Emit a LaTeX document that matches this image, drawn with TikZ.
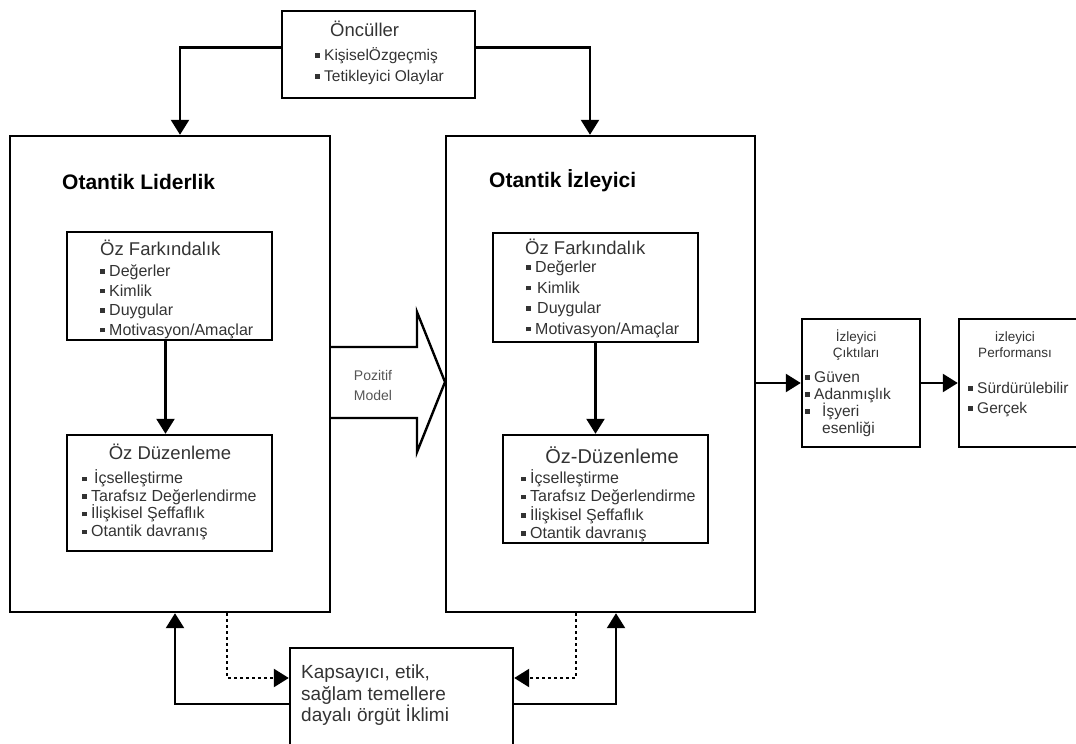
\documentclass[tikz,border=0pt]{standalone}
\usepackage{fontspec}
\setmainfont{Liberation Sans}
\usetikzlibrary{arrows.meta}
\definecolor{txtgray}{HTML}{333333}
\definecolor{modgray}{HTML}{555555}
% small square bullet
\newcommand{\blt}{\raisebox{0.3ex}{\rule{4.5pt}{4.5pt}}\hspace{4.5pt}}

\begin{document}
\begin{tikzpicture}[x=1pt,y=-1pt,
  box/.style={draw, line width=2.4pt, inner sep=0pt},
  arr/.style={line width=2.4pt, -{Triangle[length=15pt,width=18pt]}},
  dotarr/.style={arr, dash pattern=on 3pt off 3pt},
  ttl/.style={font=\fontsize{21}{25}\selectfont\bfseries, inner sep=0pt, anchor=west},
  hd/.style={font=\fontsize{18.5}{22}\selectfont, text=txtgray, inner sep=0pt},
  itm/.style={font=\fontsize{16}{19.5}\selectfont, text=txtgray, inner sep=0pt, align=left, anchor=north west},
  sm/.style={font=\fontsize{13.5}{16}\selectfont, text=txtgray, inner sep=0pt, align=center}]
  \useasboundingbox (0,0) rectangle (1076,744);

  % Antecedents
  \node[box, minimum width=193pt, minimum height=87pt] (oncul) at (378.5,54.5) {};
  \node[hd, anchor=west] (onculT) at (330,29) {Öncüller};
  \node[itm, font=\fontsize{15.5}{21}\selectfont] (onculL) at (315,47) {\blt KişiselÖzgeçmiş\\\blt Tetikleyici Olaylar};

  % Authentic leadership
  \node[box, minimum width=320pt, minimum height=476pt] (lider) at (170,374) {};
  \node[ttl] (liderT) at (62,182) {Otantik Liderlik};
  \node[box, minimum width=205pt, minimum height=108pt] (fark1) at (169.5,286) {};
  \node[hd, anchor=west] (fark1T) at (100,248) {Öz Farkındalık};
  \node[itm] (fark1L) at (100,264.5) {\blt Değerler\\\blt Kimlik\\\blt Duygular\\\blt Motivasyon/Amaçlar};
  \node[box, minimum width=205pt, minimum height=116pt] (duz1) at (169.5,493) {};
  \node[hd] (duz1T) at (170,452) {Öz Düzenleme};
  \node[itm, font=\fontsize{16}{17.7}\selectfont] (duz1L) at (82,469.5) {\blt\hspace{3pt}İçselleştirme\\\blt Tarafsız Değerlendirme\\\blt İlişkisel Şeffaflık\\\blt Otantik davranış};
  \draw[arr] ([xshift=-4pt]fark1.south) -- ([xshift=-4pt]duz1.north);

  % Authentic follower
  \node[box, minimum width=309pt, minimum height=476pt] (izleyici) at (600.5,374) {};
  \node[ttl] (izleyiciT) at (489,181) {Otantik İzleyici};
  \node[box, minimum width=205pt, minimum height=109pt] (fark2) at (595.5,287.5) {};
  \node[hd, anchor=west] (fark2T) at (525,247) {Öz Farkındalık};
  \node[itm, font=\fontsize{16}{20.5}\selectfont] (fark2L) at (526,260.5) {\blt Değerler\\\blt\hspace{2pt}Kimlik\\\blt\hspace{2pt}Duygular\\\blt Motivasyon/Amaçlar};
  \node[box, minimum width=205pt, minimum height=108pt] (duz2) at (605.5,489) {};
  \node[hd, font=\fontsize{20}{24}\selectfont] (duz2T) at (612,455) {Öz-Düzenleme};
  \node[itm, font=\fontsize{16}{18.3}\selectfont] (duz2L) at (521,469.5) {\blt İçselleştirme\\\blt Tarafsız Değerlendirme\\\blt İlişkisel Şeffaflık\\\blt Otantik davranış};
  \draw[arr] (fark2.south) -- (fark2.south |- duz2.north);

  % Positive model arrow
  \draw[line width=2.4pt, line join=miter] (330,347) -- (417,347) -- (417,312) -- (445,382)
    -- (417,452) -- (417,418) -- (330,418);
  \node[sm, text=modgray, font=\fontsize{14}{20}\selectfont] (pozT) at (373,385) {Pozitif\\Model};

  % Outcomes
  \node[box, minimum width=118pt, minimum height=128pt] (ciktilar) at (861,383) {};
  \node[sm] (ciktilarT) at (856,345) {İzleyici\\Çıktıları};
  \node[itm, font=\fontsize{15.5}{17}\selectfont] (ciktilarL) at (805,371) {\blt Güven\\\blt Adanmışlık\\\blt\hspace{8pt}İşyeri\\\hspace{17pt}esenliği};
  \node[box, minimum width=131pt, minimum height=128pt] (performans) at (1024.5,383) {};
  \node[sm] (performansT) at (1015,345) {izleyici\\Performansı};
  \node[itm, font=\fontsize{15.5}{20}\selectfont] (performansL) at (968,382) {\blt Sürdürülebilir\\\blt Gerçek};
  \draw[arr] (ciktilar.west -| izleyici.east) -- (ciktilar.west);
  \draw[arr] (ciktilar.east) -- (performans.west);

  % Organizational climate
  \node[box, minimum width=223pt, minimum height=112pt] (iklim) at (401.5,704) {};
  \node[itm, font=\fontsize{19}{21.5}\selectfont] (iklimT) at (301,665) {Kapsayıcı, etik,\\sağlam temellere\\dayalı örgüt İklimi};

  % Connectors
  \draw[arr] ([yshift=7pt]oncul.west) -| ([xshift=10pt]lider.north);
  \draw[arr] ([yshift=7pt]oncul.east) -| ([xshift=-10.5pt]izleyici.north);
  \draw[arr] (iklim.west) -| ([xshift=5pt]lider.south);
  \draw[arr] (iklim.east) -| ([xshift=15.5pt]izleyici.south);
  \draw[dotarr] ([xshift=57pt]lider.south) |- ([yshift=26pt]iklim.west);
  \draw[dotarr] ([xshift=-24.5pt]izleyici.south) |- ([yshift=26pt]iklim.east);
\end{tikzpicture}
\end{document}
